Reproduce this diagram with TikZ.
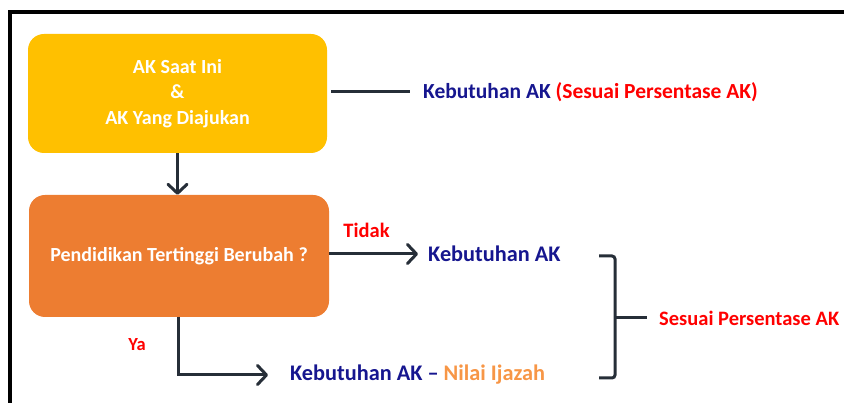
\documentclass[tikz,border=0pt]{standalone}
\usepackage{fontspec}
\setmainfont{Carlito}
\usetikzlibrary{arrows.meta}
\definecolor{yel}{HTML}{FFC000}
\definecolor{org}{HTML}{ED7D31}
\definecolor{ln}{HTML}{262E38}
\definecolor{navy}{HTML}{16168F}
\definecolor{lorange}{HTML}{F79646}
\definecolor{lred}{HTML}{FF0000}
\begin{document}
\begin{tikzpicture}[x=1pt,y=-1pt,
  box/.style={rounded corners=16pt, text=white, align=center, inner sep=0pt,
    font=\bfseries\fontsize{20}{25.5}\selectfont},
  bluetxt/.style={anchor=west, inner sep=0pt, text=navy, font=\bfseries\fontsize{21.5}{26}\selectfont},
  redtxt/.style={inner sep=0pt, text=lred, font=\bfseries\fontsize{20.5}{24}\selectfont},
  conn/.style={draw=ln, line width=3pt},
  arr/.style={conn, -{Straight Barb[length=9pt,width=19pt,line cap=round,line join=round]}}]
\useasboundingbox (0,0) rectangle (844,403);
% frame
\draw[line width=4pt, black] (9.5,403) -- (9.5,12) -- (846,12);
% boxes
\node[box, fill=yel, minimum width=299pt, minimum height=119pt] (ak) at (177.5,93.5)
  {AK Saat Ini\\\&\\AK Yang Diajukan};
\node[box, fill=org, minimum width=300pt, minimum height=122pt] (pend) at (179,256)
  {Pendidikan Tertinggi Berubah ?};
% texts
\node[bluetxt] (k1) at (423,92) {Kebutuhan AK \textcolor{lred}{(Sesuai Persentase AK)}};
\node[bluetxt, font=\bfseries\fontsize{22.3}{26}\selectfont] (k2) at (428,254) {Kebutuhan AK};
\node[bluetxt, font=\bfseries\fontsize{22.3}{26}\selectfont] (k3) at (290,375) {Kebutuhan AK -- \textcolor{lorange}{Nilai Ijazah}};
\node[redtxt] (tidak) at (366.5,230) {Tidak};
\node[redtxt, font=\bfseries\fontsize{18.5}{22}\selectfont] (ya) at (137,345) {Ya};
\node[redtxt, anchor=west] (ses) at (659,318) {Sesuai Persentase AK};
% connectors
\draw[arr] (ak.south) -- (ak.south |- pend.north);
\draw[conn] ([xshift=4pt]k1.west -| ak.east) -- ([xshift=-13pt]k1.west);
\draw[arr] (pend.east |- k2.west) -- ([xshift=-10pt]k2.west);
\coordinate (pb) at (178,317);
\draw[arr] (pb) |- ([xshift=-22pt]k3.west);
% bracket
\coordinate (bt) at (599,256);
\coordinate (bb) at (599,378);
\coordinate (bm) at (615,318);
\draw[conn, rounded corners=3pt] (bt) -- (bt -| bm) -- (bb -| bm) -- (bb);
\draw[conn] (bm) -- ([xshift=-12pt]ses.west);
\end{tikzpicture}
\end{document}
